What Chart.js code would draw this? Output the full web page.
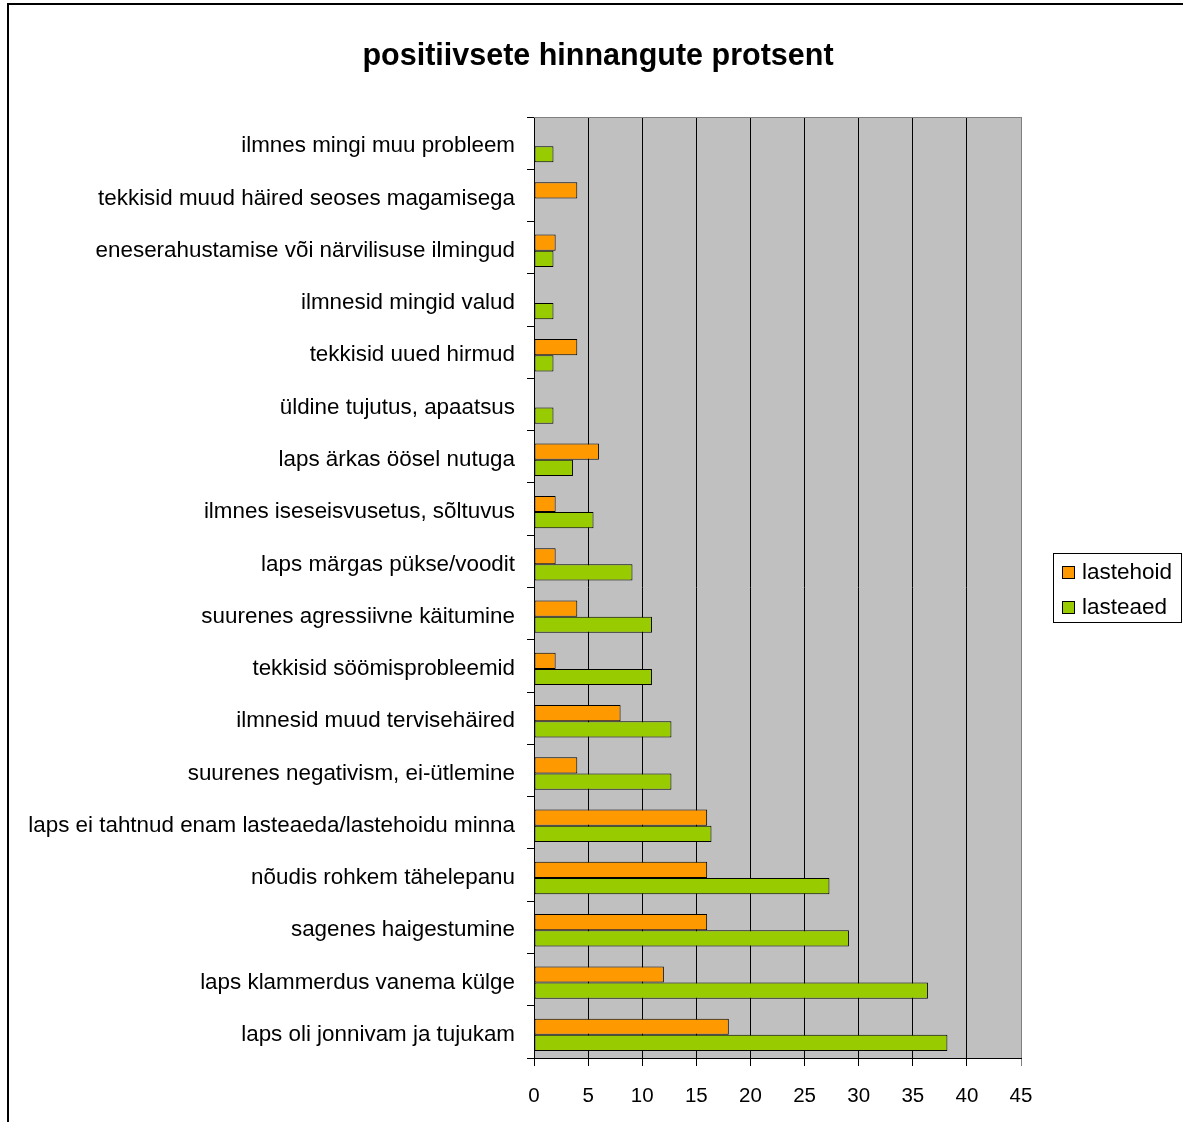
<!DOCTYPE html>
<html>
<head>
<meta charset="utf-8">
<script src="https://cdn.jsdelivr.net/npm/chart.js@4/dist/chart.umd.min.js"></script>
<style>
  body { margin: 0; background: #fff; }
  #wrap { width: 1183px; height: 1122px; position: relative; }
</style>
</head>
<body>
<div id="wrap"><canvas id="chart"></canvas></div>
<script>
const chart_title = 'positiivsete hinnangute protsent'
const categories = [
    'ilmnes mingi muu probleem',
    'tekkisid muud häired seoses magamisega',
    'eneserahustamise või närvilisuse ilmingud',
    'ilmnesid mingid valud',
    'tekkisid uued hirmud',
    'üldine tujutus, apaatsus',
    'laps ärkas öösel nutuga',
    'ilmnes iseseisvusetus, sõltuvus',
    'laps märgas pükse/voodit',
    'suurenes agressiivne käitumine',
    'tekkisid söömisprobleemid',
    'ilmnesid muud tervisehäired',
    'suurenes negativism, ei-ütlemine',
    'laps ei tahtnud enam lasteaeda/lastehoidu minna',
    'nõudis rohkem tähelepanu',
    'sagenes haigestumine',
    'laps klammerdus vanema külge',
    'laps oli jonnivam ja tujukam'
]
const lastehoid = [0, 4, 2, 0, 4, 0, 6, 2, 2, 4, 2, 8, 4, 16, 16, 16, 12, 18]
const lasteaed = [1.8, 0, 1.8, 1.8, 1.8, 1.8, 3.6, 5.5, 9.1, 10.9, 10.9, 12.7, 12.7, 16.4, 27.3, 29.1, 36.4, 38.2]
const series_names = ['lastehoid', 'lasteaed']
const series_colors = ['#FF9900', '#99CC00']
const x_max = 45
const x_step = 5

const FONT = 'Arial, "Liberation Sans", sans-serif'

// gray plot background, frame round the whole picture, title and boxed legend
const decor = {
    id: 'decor',
    beforeDraw(chart) {
        const {ctx, chartArea: a} = chart
        ctx.save()
        ctx.fillStyle = '#C0C0C0'
        ctx.fillRect(a.left, a.top, a.right - a.left, a.bottom - a.top)
        ctx.restore()
    },
    // the original sits its bars a little below the middle of each band
    beforeDatasetsDraw(chart) {
        chart.ctx.save()
        chart.ctx.translate(0, 3)
    },
    afterDatasetsDraw(chart) {
        chart.ctx.restore()
    },
    afterDraw(chart) {
        const {ctx, chartArea: a} = chart
        ctx.save()
        // plot border top/right
        ctx.strokeStyle = '#808080'
        ctx.lineWidth = 1
        ctx.beginPath()
        ctx.moveTo(a.left, a.top + 0.5)
        ctx.lineTo(a.right + 0.5, a.top + 0.5)
        ctx.lineTo(a.right + 0.5, a.bottom)
        ctx.stroke()

        // outer frame
        ctx.strokeStyle = '#000'
        ctx.lineWidth = 2
        ctx.beginPath()
        ctx.moveTo(8, 1122)
        ctx.lineTo(8, 4)
        ctx.lineTo(1183, 4)
        ctx.stroke()

        // title
        ctx.fillStyle = '#000'
        ctx.font = 'bold 30.5px ' + FONT
        ctx.textAlign = 'center'
        ctx.textBaseline = 'middle'
        ctx.fillText(chart_title, 598, 57)

        // legend
        ctx.strokeStyle = '#000'
        ctx.lineWidth = 1
        ctx.strokeRect(1053.5, 553.5, 128, 69)
        ctx.font = '22.5px ' + FONT
        ctx.textAlign = 'left'
        series_names.forEach((name, i) => {
            const y = 572 + i * 35
            ctx.fillStyle = series_colors[i]
            ctx.fillRect(1062, y - 6, 13, 13)
            ctx.strokeRect(1062.5, y - 5.5, 12, 12)
            ctx.fillStyle = '#000'
            ctx.fillText(name, 1082, y + 1)
        })
        ctx.restore()
    }
}

const ctx = document.getElementById('chart').getContext('2d')
const barChart = new Chart(ctx, {
    type: 'bar',
    data: {
        labels: categories,
        datasets: [
            {
                label: series_names[0],
                data: lastehoid,
                backgroundColor: series_colors[0],
                borderColor: '#000',
                borderWidth: 1,
                borderSkipped: false,
                categoryPercentage: 0.62,
                barPercentage: 1.0
            },
            {
                label: series_names[1],
                data: lasteaed,
                backgroundColor: series_colors[1],
                borderColor: '#000',
                borderWidth: 1,
                borderSkipped: false,
                categoryPercentage: 0.62,
                barPercentage: 1.0
            }
        ]
    },
    options: {
        indexAxis: 'y',
        responsive: true,
        maintainAspectRatio: false,
        animation: false,
        devicePixelRatio: 1,
        layout: {
            padding: {left: 0, top: 117, right: 162, bottom: 0}
        },
        plugins: {
            legend: {display: false},
            title: {display: false},
            tooltip: {enabled: false}
        },
        scales: {
            x: {
                min: 0,
                max: x_max,
                ticks: {
                    stepSize: x_step,
                    color: '#000',
                    padding: 18,
                    font: {family: FONT, size: 20.5}
                },
                grid: {
                    color: (c) => (c.tick && c.tick.value === x_max) ? '#808080' : '#000',
                    lineWidth: 1,
                    tickLength: 8,
                    drawOnChartArea: true
                },
                border: {color: '#000', width: 1},
                afterFit: (scale) => { scale.height = 64 }
            },
            y: {
                ticks: {
                    color: '#000',
                    padding: 12,
                    labelOffset: 3,
                    autoSkip: false,
                    font: {family: FONT, size: 22.4}
                },
                grid: {
                    color: '#000',
                    offset: true,
                    drawOnChartArea: false,
                    tickLength: 7
                },
                border: {color: '#000', width: 1},
                afterFit: (scale) => { scale.width = 534 }
            }
        }
    },
    plugins: [decor]
})
</script>
</body>
</html>
